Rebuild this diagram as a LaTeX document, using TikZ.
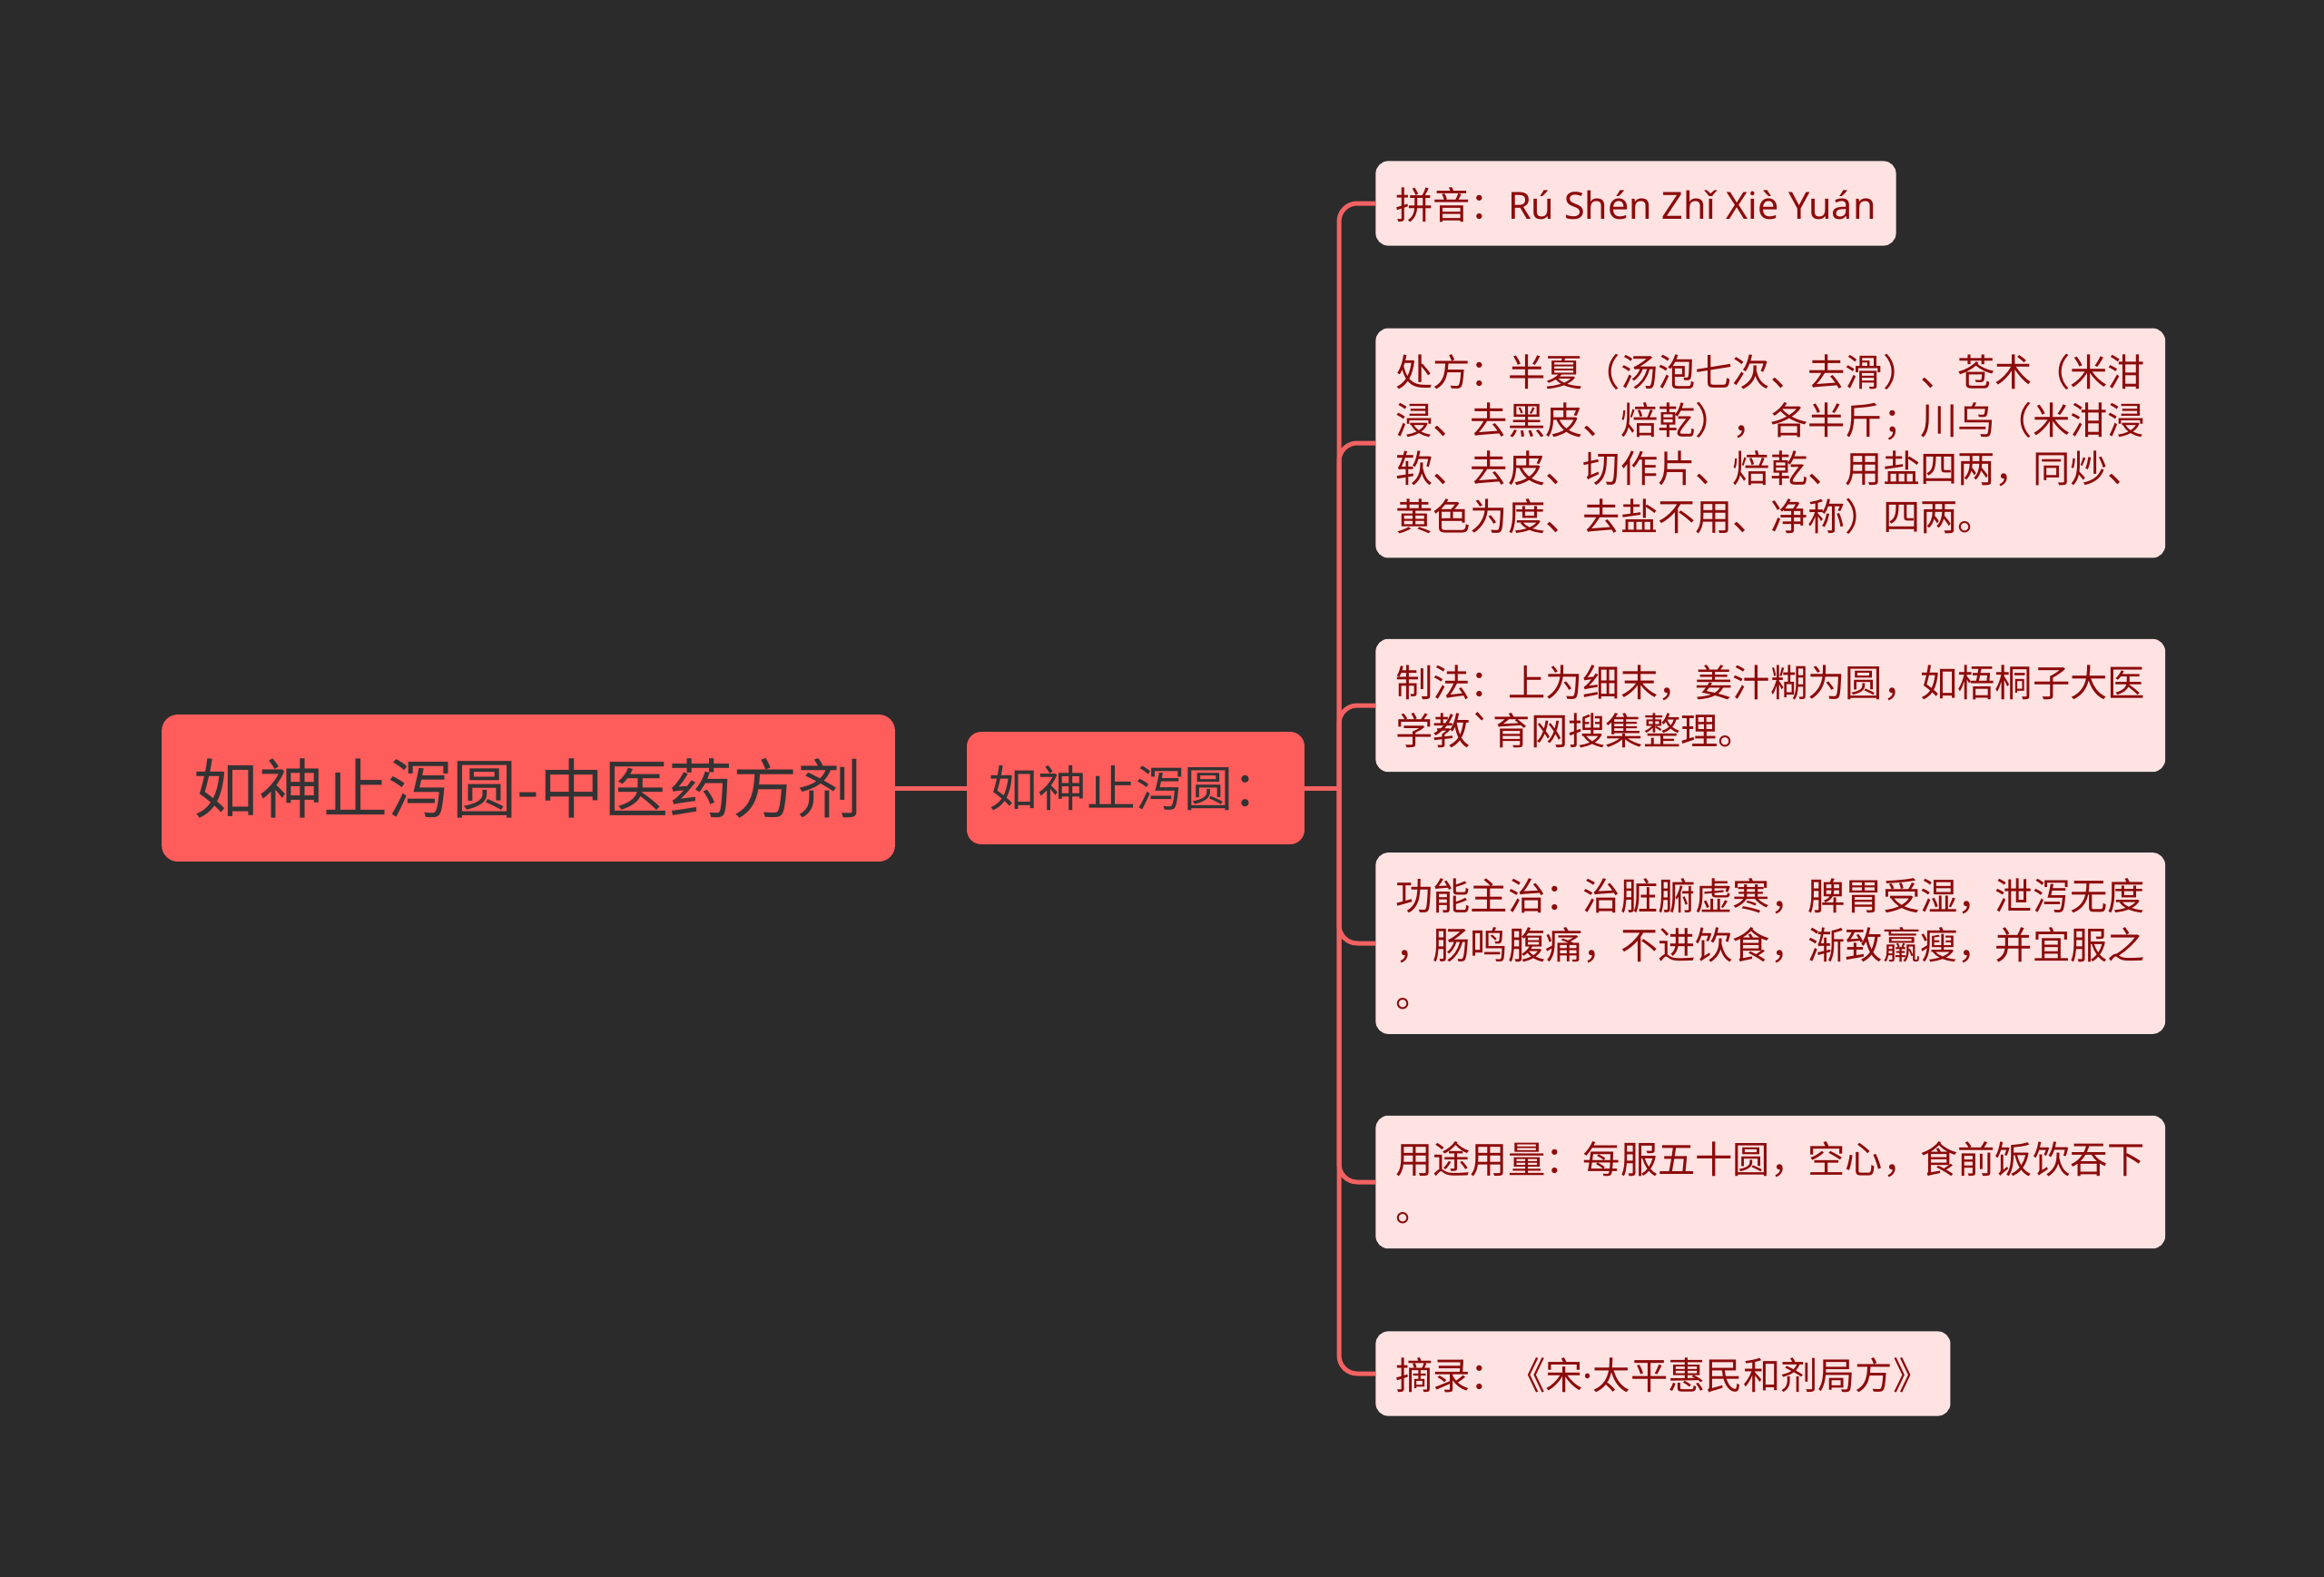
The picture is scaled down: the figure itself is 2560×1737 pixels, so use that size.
\documentclass[tikz,border=0pt]{standalone}
\usepackage{fontspec}
\setmainfont{Noto Sans CJK SC}[Ligatures=TeXOff]
\newfontfamily\latinfont{Noto Sans}
\usepackage{tikz}
\usetikzlibrary{positioning}
\definecolor{canvas}{HTML}{2B2B2B}
\definecolor{coral}{HTML}{FF5C5C}
\definecolor{wire}{HTML}{F26262}
\definecolor{blush}{HTML}{FFE2E2}
\definecolor{ink}{HTML}{8C0B0B}
\definecolor{charcoal}{HTML}{333333}
\newcommand{\rootfont}{\fontsize{40.5pt}{48pt}\selectfont}
\newcommand{\midfont}{\fontsize{30.6pt}{36pt}\selectfont}
\newcommand{\leaffont}{\fontsize{23.5pt}{30.3pt}\selectfont}
\newcommand{\leafstrut}{\rule[-5.4pt]{0pt}{30.3pt}}

\begin{document}
\begin{tikzpicture}[x=0.02cm,y=-0.02cm,
  rootbox/.style={fill=coral,text=charcoal,rounded corners=0.36cm,font=\rootfont,
                  minimum width=16.16cm,minimum height=3.24cm,inner sep=0pt},
  midbox/.style={fill=coral,text=charcoal,rounded corners=0.32cm,font=\midfont,
                 minimum width=7.44cm,minimum height=2.48cm,inner sep=0pt},
  leaf/.style={fill=blush,text=ink,rounded corners=0.28cm,font=\leaffont,align=left,
               anchor=west,inner xsep=0.44cm,inner ysep=0.4cm,
               execute at end node=\leafstrut},
  link/.style={wire,line width=0.1cm,rounded corners=0.4cm}]
% canvas
\fill[canvas] (0,0) rectangle (2560,1737);
\useasboundingbox (0,0) rectangle (2560,1737);
% main nodes
\node[rootbox] (title) at (582,868) {如神止泻圆-中医药方剂};
\node[midbox] (recipe) at (1251,868) {如神止泻圆：};
\coordinate (hub) at (1475,868);
% leaves
\node[leaf] (pinyin) at (1515,224) {\leafstrut 拼音：{\latinfont Rú Shén Zhǐ Xiè Yuán}};
\node[leaf] (formula) at (1515,488)
  {\leafstrut 处方：半夏（汤泡七次、去滑）、苍术（米泔\\
   浸、去黑皮、焙乾），各半斤；川乌（米泔浸\\
   软、去皮、切作片、焙乾、用盐四两，同炒、\\
   黄色为度、去盐不用、净称）四两。};
\node[leaf] (method) at (1515,777)
  {\leafstrut 制法：上为细末，姜汁糊为圆，如梧桐子大医\\
   学教`育网搜集整理。};
\node[leaf] (usage) at (1515,1039)
  {\leafstrut 功能主治：治脏腑虚寒，脾胃受湿，泄泻无度\\
   ，肠鸣腹痛，不进饮食，渐致羸瘦，并宜服之\\
   。};
\node[leaf] (dose) at (1515,1302)
  {\leafstrut 用途用量：每服五十圆，空心，食前饭饮吞下\\
   。};
\node[leaf] (source) at (1515,1513) {\leafstrut 摘录：《宋{\latinfont ·}太平惠民和剂局方》};
% connectors
\draw[link] (title.east) -- (recipe.west);
\draw[link] (recipe.east) -- (hub);
\foreach \leafname in {pinyin,formula,method,usage,dose,source}
  \draw[link] (hub) |- (\leafname.west);
\end{tikzpicture}
\end{document}
